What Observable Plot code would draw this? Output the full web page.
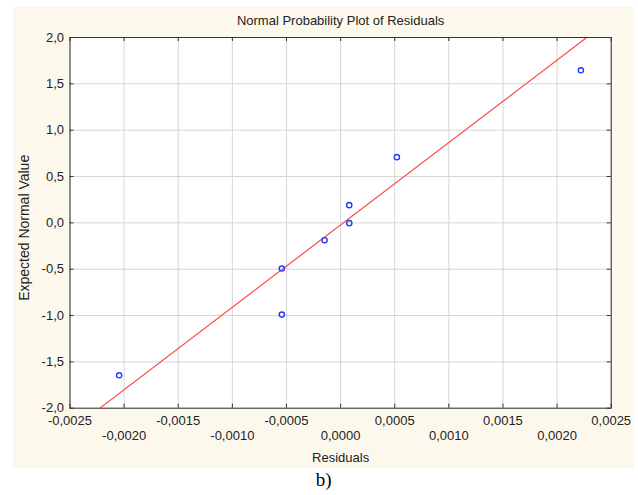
<!DOCTYPE html>
<html><head><meta charset="utf-8">
<script src="https://cdn.jsdelivr.net/npm/d3@7"></script>
<script src="https://cdn.jsdelivr.net/npm/@observablehq/plot@0.6"></script>
<style>
body{margin:0;background:#fff;}
#wrap{position:relative;width:638px;height:495px;}
#panel{position:absolute;left:13px;top:7px;width:621px;height:461px;background:#fdf8ec;}
#chart{position:absolute;left:0;top:0;}
#chart svg{background:transparent;}
</style></head>
<body>
<div id="wrap"><div id="panel"></div><div id="chart"></div></div>
<script>
const residuals = [-0.002046, -0.000543, -0.000543, -0.000148, 0.00008, 0.00008, 0.00052, 0.00222];
const expected  = [-1.645, -0.493, -0.99, -0.187, -0.003, 0.191, 0.709, 1.646];
const fitX = [-0.002225, 0.002274];
const fitY = [-2, 2];
const xTicksRow1 = [-0.0025, -0.0015, -0.0005, 0.0005, 0.0015, 0.0025];
const xTicksRow2 = [-0.0020, -0.0010, 0.0000, 0.0010, 0.0020];
const yTicks = [-2, -1.5, -1, -0.5, 0, 0.5, 1, 1.5, 2];
const title = "Normal Probability Plot of Residuals";
const xLabel = "Residuals";
const yLabel = "Expected Normal Value";
const caption = "b)";

const points = residuals.map((r, i) => ({r, e: expected[i]}));
const fit = fitX.map((x, i) => ({x, y: fitY[i]}));
const xTicks = [...xTicksRow1, ...xTicksRow2].sort((a, b) => a - b);
const fmtX = d => (d < 0 ? "-" : "") + Math.abs(d).toFixed(4).replace(".", ",");
const fmtY = d => (d < 0 ? "-" : "") + Math.abs(d).toFixed(1).replace(".", ",");

const W = 638, H = 495;
const mL = 69.5, mT = 37, mR = 27.3, mB = 87.3;
const innerH = H - mT - mB, innerW = W - mL - mR;
const font = "Liberation Sans, Arial, sans-serif";

const plot = Plot.plot({
  width: W, height: H,
  marginLeft: mL, marginTop: mT, marginRight: mR, marginBottom: mB,
  style: {fontFamily: font, fontSize: "13px", color: "#222", background: "transparent"},
  x: {domain: [-0.0025, 0.0025]},
  y: {domain: [-2, 2]},
  marks: [
    Plot.frame({fill: "white", stroke: null}),
    Plot.gridX(xTicks, {stroke: "#d6d6d6", strokeOpacity: 1}),
    Plot.gridY(yTicks, {stroke: "#d6d6d6", strokeOpacity: 1}),
    Plot.line(fit, {x: "x", y: "y", stroke: "#ff4a4a", strokeWidth: 1.2, clip: true}),
    Plot.dot(points, {x: "r", y: "e", r: 2.6, stroke: "#1f3cff", strokeWidth: 1.4, fill: "none"}),
    Plot.frame({stroke: "#333", strokeWidth: 1}),
    Plot.tickX(xTicks, {x: d => d, stroke: "#333", insetTop: innerH - 4}),
    Plot.tickX(xTicks, {x: d => d, stroke: "#333", insetBottom: innerH - 4}),
    Plot.tickY(yTicks, {y: d => d, stroke: "#333", insetRight: innerW - 4}),
    Plot.tickY(yTicks, {y: d => d, stroke: "#333", insetLeft: innerW - 4}),
    Plot.axisX(xTicksRow1, {tickSize: 0, tickPadding: 8, tickFormat: fmtX, fontSize: 13, fill: "#222", label: null}),
    Plot.axisX(xTicksRow2, {tickSize: 0, tickPadding: 23, tickFormat: fmtX, fontSize: 13, fill: "#222", label: null}),
    Plot.axisY(yTicks, {tickSize: 0, tickPadding: 6, tickFormat: fmtY, fontSize: 13, fill: "#222", label: null}),
    Plot.text([title], {frameAnchor: "top", dy: -22, fontSize: 13, fill: "#222"}),
    Plot.text([xLabel], {frameAnchor: "bottom", dy: 54, fontSize: 13, fill: "#222"}),
    Plot.text([yLabel], {frameAnchor: "left", textAnchor: "middle", dx: -45.5, dy: 5, rotate: -90, fontSize: 14, fill: "#222"}),
    Plot.text([caption], {frameAnchor: "bottom", dx: -17, dy: 78, fontSize: 19, fill: "#000", fontFamily: "Liberation Serif, Times New Roman, serif"})
  ]
});
document.getElementById("chart").appendChild(plot);
</script>
</body></html>
